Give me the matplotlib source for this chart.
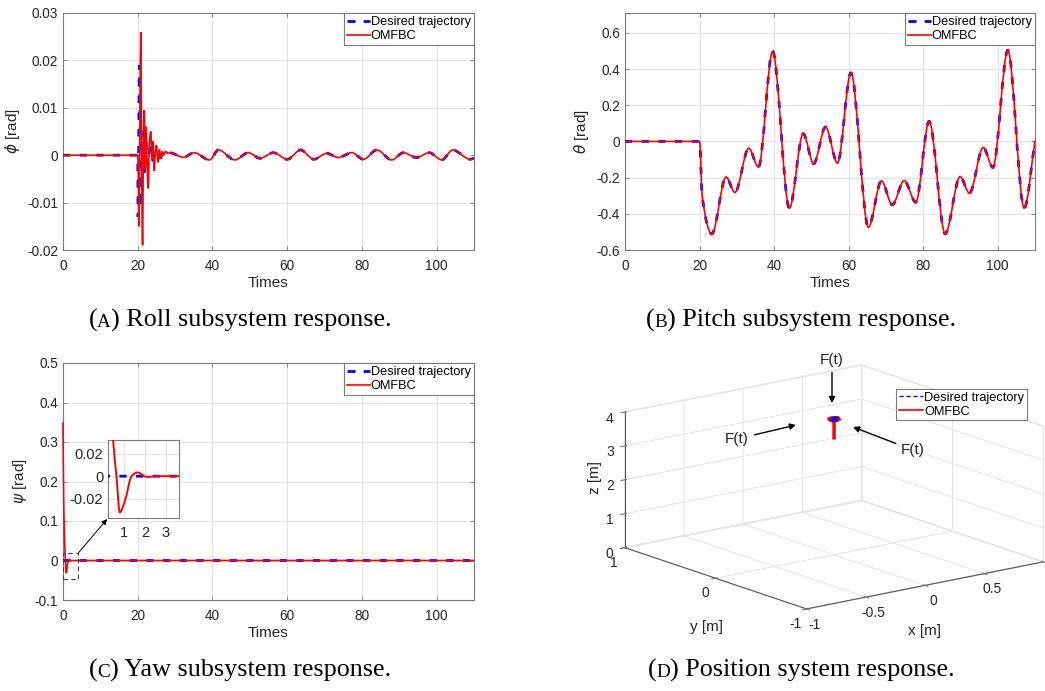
import numpy as np
import matplotlib
matplotlib.use('Agg')
import matplotlib.pyplot as plt
from matplotlib.path import Path
from matplotlib.patches import PathPatch, Rectangle
from matplotlib.lines import Line2D
from matplotlib.ticker import FuncFormatter

plt.rcParams['font.family'] = ['Liberation Sans', 'DejaVu Sans']
plt.rcParams['axes.unicode_minus'] = False
plt.rcParams['grid.color'] = '#e4e4e4'
plt.rcParams['grid.linewidth'] = 0.7

# ---- roll (phi) ----
roll_omfbc_t = [0, 20.0, 20.15, 20.3, 20.55, 20.8, 21.05, 21.3, 21.5, 21.75, 22.0, 22.25,
                22.5, 22.8, 23.1, 23.5, 23.8, 24.1, 24.4, 24.7, 25.0, 25.4, 25.8, 26.2,
                26.6, 27.0, 27.5, 28.0]
roll_omfbc_v = [0, 0, -0.004, -0.015, 0.004, 0.026, -0.002, -0.019, 0.001, 0.0095, -0.003, 0.006,
                -0.002, -0.007, 0.002, 0.005, -0.001, 0.003, -0.0033, 0.0005, 0.0021, -0.0015, 0.0012, -0.0008,
                0.0008, 0.0001, 0.0008, 0.0004]
roll_des_t = [0, 20.0, 20.1, 20.45, 20.9, 21.3, 21.7, 22.2, 22.7, 23.3, 24.0, 25.0, 26.0, 27.0, 28.0]
roll_des_v = [0, 0, -0.013, 0.019, -0.011, 0.005, -0.004, 0.003, -0.002, 0.0015, -0.001, 0.001,
              -0.0005, 0.0006, 0.0004]
# slow ripple after the transient (same for both signals)
roll_tail_t = [28.6, 32.2, 35.1, 39.2, 41.6, 46.0, 49.6, 52.7, 56.3, 60.0, 63.6, 67.1, 70.6,
               73.7, 77.3, 80.4, 84.0, 88.0, 91.1, 94.6, 98.0, 101.4, 104.3, 109.0, 110.0]
roll_tail_v = [0.0005, -0.00045, 0.00053, -0.001, 0.0011, -0.001, 0.00053, -0.00066, 0.00053,
               -0.00087, 0.0011, -0.00087, 0.0004, -0.0005, 0.00053, -0.00087, 0.0011, -0.001,
               0.00053, -0.0005, 0.00053, -0.001, 0.0011, -0.00087, -0.0006]

# ---- pitch (theta) ----
pitch_t = [0, 20.0, 20.7, 23.3, 27.1, 29.5, 33.2, 35.8, 39.6, 44.1, 47.8, 50.6, 53.8, 57.0,
           60.6, 65.3, 68.8, 71.7, 74.9, 78.0, 81.6, 85.9, 89.9, 92.4, 96.1, 98.7, 102.7,
           107.1, 110.0]
pitch_v = [0, 0, -0.30, -0.511, -0.197, -0.282, -0.037, -0.142, 0.498, -0.369, 0.043, -0.123,
           0.08, -0.12, 0.379, -0.474, -0.218, -0.35, -0.216, -0.336, 0.111, -0.511, -0.194,
           -0.286, -0.033, -0.144, 0.504, -0.369, 0.004]

# ---- yaw (psi) ----
yaw_t = [0, 0.2, 0.49, 0.65, 0.81, 1.05, 1.37, 1.64, 2.1, 2.6, 110]
yaw_omfbc = [0.35, 0.14, 0.032, 0.0, -0.032, -0.022, 0.0, 0.0033, -0.0007, 0.0, 0.0]
yaw_des_t = [0, 110]
yaw_des = [0, 0]

# ---- position ----
pos_des_x = [0.015, 0.0, -0.015, 0.0, 0.015]
pos_des_y = [0.0, 0.015, 0.0, -0.015, 0.0]
pos_des_z = [4.0, 4.0, 4.0, 4.0, 4.0]
pos_x = [0.0, 0.0, 0.035, 0.025, 0.0, -0.025, -0.035, -0.025, 0.0, 0.025, 0.035]
pos_y = [0.0, 0.0, 0.0, 0.025, 0.035, 0.025, 0.0, -0.025, -0.035, -0.025, 0.0]
pos_z = [3.45, 3.98, 4.0, 4.0, 4.0, 4.0, 4.0, 4.0, 4.0, 4.0, 4.0]

W, H = 1045, 691
FRAME = '#7a7a7a'
TXT = '#262626'
BLUE = '#0000ff'
RED = '#ff0000'
SERIF = ['Liberation Serif', 'DejaVu Serif']


def smooth_path(t, v):
    # monotone cubic (pchip style) tangents, drawn as bezier segments
    t = np.asarray(t, float)
    v = np.asarray(v, float)
    h = np.diff(t)
    d = np.diff(v) / h
    m = np.zeros_like(v)
    for i in range(1, len(v) - 1):
        if d[i - 1] * d[i] > 0:
            w1 = 2 * h[i] + h[i - 1]
            w2 = h[i] + 2 * h[i - 1]
            m[i] = (w1 + w2) / (w1 / d[i - 1] + w2 / d[i])
    m[0] = d[0]
    m[-1] = d[-1]
    verts = [(t[0], v[0])]
    codes = [Path.MOVETO]
    for i in range(len(h)):
        verts += [(t[i] + h[i] / 3, v[i] + m[i] * h[i] / 3),
                  (t[i + 1] - h[i] / 3, v[i + 1] - m[i + 1] * h[i] / 3),
                  (t[i + 1], v[i + 1])]
        codes += [Path.CURVE4] * 3
    return Path(verts, codes)


def curve(ax, t, v, **kw):
    ax.add_patch(PathPatch(smooth_path(t, v), fill=False, capstyle='butt', **kw))


des_kw = dict(edgecolor=BLUE, lw=2.0, linestyle=(0, (2.6, 3.4)), zorder=2.8)
omf_kw = dict(edgecolor=RED, lw=1.2, zorder=2.9)


def style(ax, xlim, ylim, xticks, yticks, labelsize=9.8):
    ax.set_xlim(xlim)
    ax.set_ylim(ylim)
    ax.set_xticks(xticks)
    ax.set_yticks(yticks)
    fmt = FuncFormatter(lambda val, pos: f'{val:g}')
    ax.xaxis.set_major_formatter(fmt)
    ax.yaxis.set_major_formatter(fmt)
    ax.grid(True)
    ax.set_axisbelow(True)
    ax.tick_params(direction='in', top=True, right=True, length=3, width=0.6,
                   color=FRAME, labelsize=labelsize, labelcolor=TXT)
    ax.tick_params(axis='x', pad=6.5)
    ax.tick_params(axis='y', pad=3.5)
    for s in ax.spines.values():
        s.set_color(FRAME)
        s.set_linewidth(0.8)


def add_legend(ax):
    handles = [Line2D([], [], color=BLUE, lw=2.0, ls=(0, (2.9, 2.9))),
               Line2D([], [], color=RED, lw=1.2)]
    leg = ax.legend(handles, ['Desired trajectory', 'OMFBC'], loc='upper right',
                    fontsize=9.2, fancybox=False, framealpha=1, edgecolor=FRAME,
                    borderaxespad=0, borderpad=0.25, handlelength=1.75,
                    handletextpad=0.1, labelspacing=0.15)
    leg.get_frame().set_linewidth(0.8)
    leg.set_zorder(6)
    return leg


def fx(x):
    return x / W


def fy(y):
    return 1 - y / H


fig = plt.figure(figsize=(10.45, 6.91), dpi=100)

# (A) roll
ax1 = fig.add_axes([fx(63), fy(250), fx(411), 237 / H])
curve(ax1, roll_des_t + roll_tail_t, roll_des_v + roll_tail_v, **des_kw)
curve(ax1, roll_omfbc_t + roll_tail_t, roll_omfbc_v + roll_tail_v, **omf_kw)
style(ax1, (0, 110), (-0.02, 0.03), range(0, 101, 20), [-0.02, -0.01, 0, 0.01, 0.02, 0.03])
ax1.set_xlabel('Times', fontsize=11, color=TXT, labelpad=2)
ax1.set_ylabel(r'$\phi$ [rad]', fontsize=11, color=TXT, labelpad=4)
add_legend(ax1)

# (B) pitch
ax2 = fig.add_axes([fx(625), fy(250), fx(410), 237 / H])
curve(ax2, pitch_t, pitch_v, **des_kw)
curve(ax2, pitch_t, pitch_v, **omf_kw)
style(ax2, (0, 110), (-0.6, 0.71), range(0, 101, 20), [-0.6, -0.4, -0.2, 0, 0.2, 0.4, 0.6])
ax2.set_xlabel('Times', fontsize=11, color=TXT, labelpad=2)
ax2.set_ylabel(r'$\theta$ [rad]', fontsize=11, color=TXT, labelpad=4)
add_legend(ax2)

# (C) yaw
ax3 = fig.add_axes([fx(63), fy(600), fx(411), 237 / H])
curve(ax3, yaw_des_t, yaw_des, **des_kw)
curve(ax3, yaw_t, yaw_omfbc, clip_on=False, **omf_kw)
style(ax3, (0, 110), (-0.1, 0.5), range(0, 101, 20), [-0.1, 0, 0.1, 0.2, 0.3, 0.4, 0.5])
ax3.set_xlabel('Times', fontsize=11, color=TXT, labelpad=2)
ax3.set_ylabel(r'$\psi$ [rad]', fontsize=11, color=TXT, labelpad=4)
add_legend(ax3)
ax3.add_patch(Rectangle((0, -0.048), 4, 0.066, fill=False, ls=(0, (4, 3)),
                        edgecolor='#404040', lw=0.8, zorder=5))

ins = fig.add_axes([fx(108), fy(518), fx(71), 78 / H])
curve(ins, yaw_des_t, yaw_des, **des_kw)
curve(ins, yaw_t, yaw_omfbc, edgecolor=RED, lw=1.4, zorder=2.9)
style(ins, (0.25, 3.62), (-0.037, 0.032), [1, 2, 3], [-0.02, 0, 0.02], labelsize=10.5)
ins.tick_params(top=False, right=False, length=0)
ins.tick_params(axis='x', pad=6)
ax3.annotate('', xy=(0, 0), xycoords=ins.transAxes, xytext=(4, 0.018),
             textcoords='data',
             arrowprops=dict(arrowstyle='-|>', color='k', lw=0.7, mutation_scale=8,
                             shrinkA=0, shrinkB=1))

# (D) position, 3d
ax4 = fig.add_axes([fx(600), fy(641), fx(460), 300 / H], projection='3d')
ax4.set_proj_type('ortho')
ax4.view_init(elev=15, azim=-127.5)
ax4.set_box_aspect((1, 1, 0.47), zoom=1.44)
ax4.plot(pos_x, pos_y, pos_z, color=RED, lw=2.5)
ax4.plot(pos_des_x, pos_des_y, pos_des_z, color=BLUE, lw=3)
ax4.set_xlim(-1, 1)
ax4.set_ylim(-1, 1)
ax4.set_zlim(0, 4)
ax4.set_xticks([-1, -0.5, 0, 0.5, 1])
ax4.set_yticks([-1, 0, 1])
ax4.set_zticks([0, 1, 2, 3, 4])
for axis in (ax4.xaxis, ax4.yaxis, ax4.zaxis):
    axis.set_major_formatter(FuncFormatter(lambda val, pos: f'{val:g}'))
    axis.set_pane_color((1, 1, 1, 1))
    axis.pane.set_edgecolor('#e4e4e4')
    axis.line.set_color('#555555')
ax4.tick_params(labelsize=10, labelcolor=TXT, colors=FRAME)
ax4.xaxis.set_tick_params(pad=-3)
ax4.yaxis.set_tick_params(pad=-3)
ax4.zaxis.set_tick_params(pad=-4)
fig.text(fx(925), fy(631), 'x [m]', ha='center', va='center', fontsize=11, color=TXT)
fig.text(fx(707), fy(627), 'y [m]', ha='center', va='center', fontsize=11, color=TXT)
fig.text(fx(595), fy(478), 'z [m]', ha='center', va='center', fontsize=11, color=TXT,
         rotation=90)
h3 = [Line2D([], [], color=BLUE, lw=1.0, ls=(0, (3, 2))), Line2D([], [], color=RED, lw=1.2)]
leg4 = ax4.legend(h3, ['Desired trajectory', 'OMFBC'], loc='upper right',
                  bbox_to_anchor=(fx(1033), fy(383)), bbox_transform=fig.transFigure,
                  fontsize=9.2, fancybox=False, framealpha=1, edgecolor=FRAME,
                  borderpad=0.2, handlelength=1.9, handletextpad=0.1, labelspacing=0.15)
leg4.get_frame().set_linewidth(0.8)

arrow = dict(arrowstyle='-|>', color='k', lw=1.0, mutation_scale=9, shrinkA=2, shrinkB=0)
for txt_xy, tip_xy in [((832, 360), (832, 403)), ((737, 439), (796, 425)), ((913, 450), (853, 427))]:
    ax4.annotate('F(t)', xy=(fx(tip_xy[0]), fy(tip_xy[1])), xycoords='figure fraction',
                 xytext=(fx(txt_xy[0]), fy(txt_xy[1])), textcoords='figure fraction',
                 ha='center', va='center', fontsize=11, color=TXT, arrowprops=arrow)

# captions with small-caps letter
renderer = fig.canvas.get_renderer()


def caption(xc, y_base, letter, rest):
    parts = [('(', 18.8), (letter, 13.8), (') ' + rest, 18.8)]
    objs = [fig.text(0, fy(y_base), s, fontsize=size, family=SERIF, va='baseline', ha='left')
            for s, size in parts]
    widths = [o.get_window_extent(renderer).width for o in objs]
    x = xc - sum(widths) / 2
    for o, w in zip(objs, widths):
        o.set_x(fx(x))
        x += w


caption(240, 327, 'A', 'Roll subsystem response.')
caption(801, 327, 'B', 'Pitch subsystem response.')
caption(240, 677, 'C', 'Yaw subsystem response.')
caption(801, 677, 'D', 'Position system response.')

fig.savefig('out.png', dpi=100)
